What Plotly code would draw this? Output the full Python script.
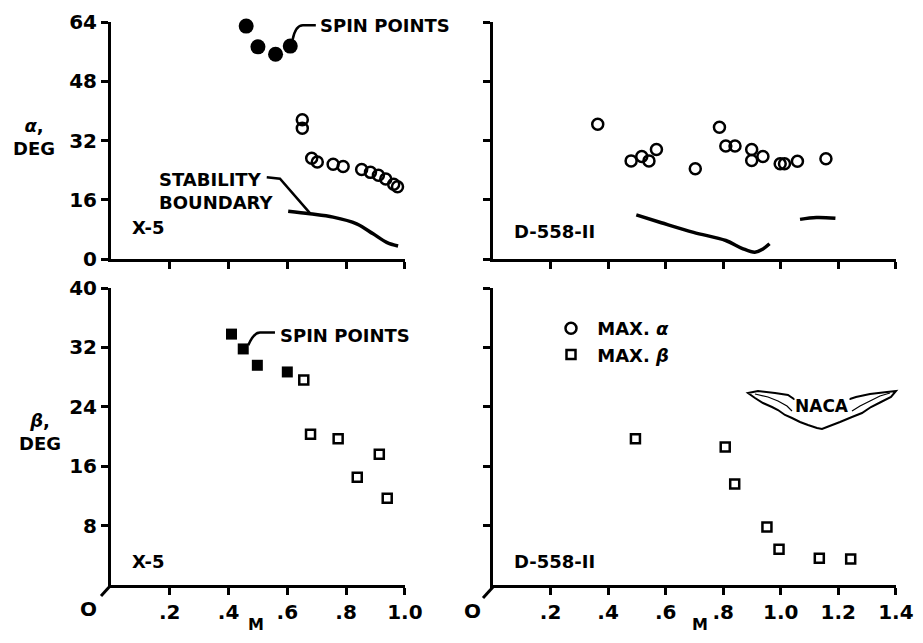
import plotly.graph_objects as go

W, H = 907, 627   # page body has an 8px margin; figure sits at (8, 8) inside the 923x643 window
OFF = 8
FONT = "DejaVu Sans"

# ---------------- data ----------------
# X-5, alpha
x5_spin_alpha_M = [0.46, 0.50, 0.56, 0.61]
x5_spin_alpha = [62.9, 57.3, 55.3, 57.5]
x5_alpha_M = [0.651, 0.651, 0.683, 0.702, 0.756, 0.790, 0.853, 0.883, 0.910, 0.935, 0.962, 0.975]
x5_alpha = [37.6, 35.3, 27.2, 26.2, 25.6, 25.0, 24.2, 23.4, 22.6, 21.6, 20.2, 19.5]
x5_stab_M = [0.603, 0.677, 0.756, 0.836, 0.892, 0.938, 0.977]
x5_stab_alpha = [12.9, 12.2, 11.3, 9.5, 6.8, 4.5, 3.5]

# D-558-II, alpha
d558_alpha_M = [0.364, 0.480, 0.517, 0.542, 0.568, 0.703, 0.787, 0.809, 0.841, 0.899, 0.899,
                0.938, 0.998, 1.013, 1.058, 1.157]
d558_alpha = [36.4, 26.5, 27.7, 26.5, 29.6, 24.4, 35.6, 30.5, 30.5, 29.6, 26.6,
              27.7, 25.7, 25.7, 26.4, 27.1]
d558_stab1_M = [0.498, 0.585, 0.697, 0.809, 0.865, 0.910, 0.938, 0.961]
d558_stab1_alpha = [11.9, 9.8, 7.2, 5.0, 2.9, 1.8, 2.7, 4.1]
d558_stab2_M = [1.067, 1.124, 1.19]
d558_stab2_alpha = [10.7, 11.2, 11.0]

# X-5, beta
x5_spin_beta_M = [0.41, 0.45, 0.498, 0.60]
x5_spin_beta = [33.8, 31.8, 29.6, 28.7]
x5_beta_M = [0.656, 0.679, 0.773, 0.838, 0.913, 0.940]
x5_beta = [27.6, 20.3, 19.7, 14.5, 17.6, 11.7]

# D-558-II, beta
d558_beta_M = [0.495, 0.807, 0.840, 0.952, 0.994, 1.134, 1.243]
d558_beta = [19.7, 18.6, 13.6, 7.8, 4.8, 3.6, 3.5]

alpha_ticks = [0, 16, 32, 48, 64]
beta_ticks = [8, 16, 24, 32, 40]
m_ticks_left = [0.2, 0.4, 0.6, 0.8, 1.0]
m_labels_left = [".2", ".4", ".6", ".8", "1.0"]
m_ticks_right = [0.2, 0.4, 0.6, 0.8, 1.0, 1.2, 1.4]
m_labels_right = [".2", ".4", ".6", ".8", "1.0", "1.2", "1.4"]


def px(x):
    return (x - OFF) / W


def py(y):
    return 1 - (y - OFF) / H


fig = go.Figure()

open_c = dict(symbol="circle-open", size=11, color="black", line=dict(width=2.5, color="black"))
fill_c = dict(symbol="circle", size=15, color="black", line=dict(width=0))
open_s = dict(symbol="square-open", size=9, color="black", line=dict(width=2.5, color="black"))
fill_s = dict(symbol="square", size=11, color="black", line=dict(width=0))
line_s = dict(color="black", width=3.5, shape="spline")

# top-left
fig.add_trace(go.Scatter(x=x5_spin_alpha_M, y=x5_spin_alpha, mode="markers", marker=fill_c,
                         xaxis="x", yaxis="y", showlegend=False, cliponaxis=False))
fig.add_trace(go.Scatter(x=x5_alpha_M, y=x5_alpha, mode="markers", marker=open_c,
                         xaxis="x", yaxis="y", showlegend=False, cliponaxis=False))
fig.add_trace(go.Scatter(x=x5_stab_M, y=x5_stab_alpha, mode="lines", line=line_s,
                         xaxis="x", yaxis="y", showlegend=False))
# top-right
fig.add_trace(go.Scatter(x=d558_alpha_M, y=d558_alpha, mode="markers", marker=open_c,
                         xaxis="x2", yaxis="y2", name=" MAX. <i>α</i>", showlegend=True, cliponaxis=False))
fig.add_trace(go.Scatter(x=d558_stab1_M, y=d558_stab1_alpha, mode="lines", line=line_s,
                         xaxis="x2", yaxis="y2", showlegend=False))
fig.add_trace(go.Scatter(x=d558_stab2_M, y=d558_stab2_alpha, mode="lines", line=line_s,
                         xaxis="x2", yaxis="y2", showlegend=False))
# bottom-left
fig.add_trace(go.Scatter(x=x5_spin_beta_M, y=x5_spin_beta, mode="markers", marker=fill_s,
                         xaxis="x3", yaxis="y3", showlegend=False, cliponaxis=False))
fig.add_trace(go.Scatter(x=x5_beta_M, y=x5_beta, mode="markers", marker=open_s,
                         xaxis="x3", yaxis="y3", showlegend=False, cliponaxis=False))
# bottom-right
fig.add_trace(go.Scatter(x=d558_beta_M, y=d558_beta, mode="markers", marker=open_s,
                         xaxis="x4", yaxis="y4", name=" MAX. <i>β</i>", showlegend=True, cliponaxis=False))

dom_L = [px(111), px(405)]
dom_R = [px(493), px(896)]
dom_T = [py(259), py(22)]
dom_B = [py(585), py(288)]

tickfont = dict(family=FONT, size=20, color="black", weight="bold")
common = dict(showline=True, linewidth=3, linecolor="black", ticks="outside", ticklen=7,
              tickwidth=2.5, tickcolor="black", showgrid=False, zeroline=False,
              tickfont=tickfont, fixedrange=True, automargin=False, ticklabeloverflow="allow")

fig.update_layout(
    width=W, height=H, margin=dict(l=0, r=0, t=0, b=0, autoexpand=False),
    paper_bgcolor="white", plot_bgcolor="white",
    font=dict(family=FONT, color="black"),
    xaxis=dict(domain=dom_L, anchor="y", range=[0, 1.0005], tickvals=m_ticks_left,
               showticklabels=False, **common),
    yaxis=dict(domain=dom_T, anchor="x", range=[0, 64.01], tickvals=alpha_ticks, **common),
    xaxis2=dict(domain=dom_R, anchor="y2", range=[0, 1.4005], tickvals=m_ticks_right,
                showticklabels=False, **common),
    yaxis2=dict(domain=dom_T, anchor="x2", range=[0, 64.01], tickvals=alpha_ticks,
                showticklabels=False, **common),
    xaxis3=dict(domain=dom_L, anchor="y3", range=[0, 1.0005], tickvals=m_ticks_left,
                ticktext=m_labels_left, **common),
    yaxis3=dict(domain=dom_B, anchor="x3", range=[0, 40.01], tickvals=beta_ticks, **common),
    xaxis4=dict(domain=dom_R, anchor="y4", range=[0, 1.4005], tickvals=m_ticks_right,
                ticktext=m_labels_right, **common),
    yaxis4=dict(domain=dom_B, anchor="x4", range=[0, 40.01], tickvals=beta_ticks,
                showticklabels=False, **common),
    legend=dict(x=px(551), y=py(310), xanchor="left", yanchor="top",
                font=dict(family=FONT, size=18, color="black", weight="bold"),
                bgcolor="rgba(0,0,0,0)", tracegroupgap=0, itemwidth=30),
)

lab = dict(family=FONT, size=18, color="black", weight="bold")
ann = []


def add_text(text, x, y, xref, yref, xanchor="left", size=18, align="left", bg=None):
    f = dict(lab)
    f["size"] = size
    d = dict(text=text, x=x, y=y, xref=xref, yref=yref, xanchor=xanchor,
             yanchor="middle", showarrow=False, font=f, align=align)
    if bg:
        d["bgcolor"] = bg
        d["borderpad"] = 0
    ann.append(d)


# panel labels
add_text("SPIN POINTS", 0.704, 63.1, "x", "y")
add_text("STABILITY<br>BOUNDARY", 0.156, 18.3, "x", "y")
add_text("X-5", 0.065, 8.5, "x", "y")
add_text("D-558-II", 0.067, 7.3, "x2", "y2")
add_text("SPIN POINTS", 0.568, 33.6, "x3", "y3")
add_text("X-5", 0.065, 3.2, "x3", "y3")
add_text("D-558-II", 0.067, 3.2, "x4", "y4")
# axis titles
add_text("<i>α</i>,<br>DEG", px(34), py(137), "paper", "paper", xanchor="center", size=18, align="center")
add_text("<i>β</i>,<br>DEG", px(40), py(432), "paper", "paper", xanchor="center", size=18, align="center")
add_text("M", px(256), py(624), "paper", "paper", xanchor="center", size=16)
add_text("M", px(700), py(624), "paper", "paper", xanchor="center", size=16)
add_text("O", px(88), py(609), "paper", "paper", xanchor="center", size=20)
add_text("O", px(472), py(611), "paper", "paper", xanchor="center", size=20)
add_text("NACA", px(822), py(406), "paper", "paper", xanchor="center", size=17, bg="white")
fig.update_layout(annotations=ann)

shapes = []
blk = dict(color="black", width=2.5)
# leader lines
shapes.append(dict(type="path", xref="x", yref="y", line=blk,
                   path="M 0.618,59.2 Q 0.628,63.1 0.653,63.1 L 0.697,63.1"))
shapes.append(dict(type="path", xref="x", yref="y", line=blk,
                   path="M 0.53,22.1 L 0.575,21.7 L 0.677,12.4"))
shapes.append(dict(type="path", xref="x3", yref="y3", line=blk,
                   path="M 0.467,32.3 Q 0.485,34.0 0.507,34.0 L 0.558,34.0"))
# origin slashes
shapes.append(dict(type="line", xref="paper", yref="paper", line=dict(color="black", width=3),
                   x0=px(101), y0=py(596), x1=px(111), y1=py(585)))
shapes.append(dict(type="line", xref="paper", yref="paper", line=dict(color="black", width=3),
                   x0=px(483), y0=py(598), x1=px(493), y1=py(587)))
# NACA wings emblem (decoration)
top = [(748, 393), (758, 391), (775, 393), (788, 395), (794, 399), (822, 400), (850, 399),
       (856, 397), (870, 394), (887, 392), (896, 391)]
bottom = [(896, 391), (891, 397), (881, 402), (871, 407), (862, 413), (852, 417), (840, 422),
          (827, 427), (822, 429), (817, 428), (808, 425), (800, 422), (792, 418), (785, 415),
          (778, 410), (772, 407), (763, 403), (755, 398), (748, 393)]
pts = top + bottom[1:]
pth = "M " + " L ".join(f"{px(a):.5f},{py(b):.5f}" for a, b in pts) + " Z"
shapes.append(dict(type="path", xref="paper", yref="paper", path=pth,
                   line=dict(color="black", width=2)))
inner_l = [(755, 394), (768, 397), (778, 401), (787, 406), (792, 411)]
inner_r = [(852, 411), (860, 406), (870, 401), (880, 396), (890, 393)]
for seg in (inner_l, inner_r):
    p = "M " + " L ".join(f"{px(a):.5f},{py(b):.5f}" for a, b in seg)
    shapes.append(dict(type="path", xref="paper", yref="paper", path=p,
                       line=dict(color="black", width=1.2)))
fig.update_layout(shapes=shapes)

fig.write_html("out.html")
